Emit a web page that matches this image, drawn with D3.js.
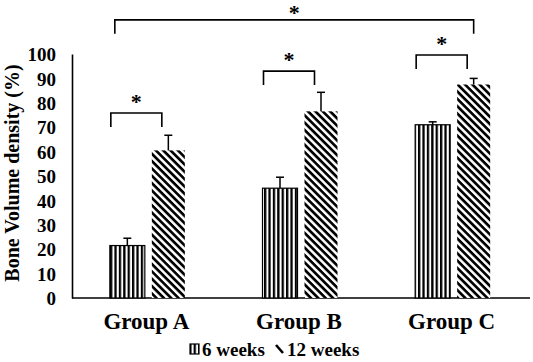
<!DOCTYPE html>
<html><head><meta charset="utf-8">
<script src="https://cdn.jsdelivr.net/npm/d3@7"></script>
<style>body{margin:0;background:#fff}svg{display:block}text{font-family:"Liberation Serif","Times New Roman",serif;font-weight:bold;fill:#000}</style>
</head><body>
<script>
const groups = ["Group A","Group B","Group C"];
const seriesNames = ["6 weeks","12 weeks"];
const values6 = [21.5, 45, 71];
const values12 = [60.5, 76.5, 87.5];
const err6 = [3, 4.5, 1.2];
const err12 = [6.2, 7.8, 2.5];
const yTicks = [0,10,20,30,40,50,60,70,80,90,100];
// significance brackets: [groupIndexLeft, groupIndexRight, y-level (data units)]
const brackets = [[0,0,75.8],[1,1,93],[2,2,99.6],[0,2,114]];

const W=533,H=362;
const svg=d3.select("body").append("svg").attr("width",W).attr("height",H);
const defs=svg.append("defs");
const pv=defs.append("pattern").attr("id","vert").attr("patternUnits","userSpaceOnUse").attr("width",4.4).attr("height",10);
pv.append("rect").attr("width",4.4).attr("height",10).attr("fill","#fff");
pv.append("rect").attr("width",2.3).attr("height",10).attr("fill","#000");
const pd=defs.append("pattern").attr("id","diag").attr("patternUnits","userSpaceOnUse").attr("width",10).attr("height",5.2).attr("patternTransform","rotate(45)");
pd.append("rect").attr("width",10).attr("height",5.2).attr("fill","#fff");
pd.append("rect").attr("width",10).attr("height",2.7).attr("fill","#000");

const x=d3.scaleBand().domain(groups).range([72,530]);
const y=d3.scaleLinear().domain([0,100]).range([298,54]);
const barW=35, gap=7;
const x6=g=>x(g)+x.bandwidth()/2-gap/2-barW;
const x12=g=>x(g)+x.bandwidth()/2+gap/2;

// axes
const yAxis=svg.append("g").attr("transform","translate(72,0)").call(d3.axisLeft(y).tickValues(yTicks).tickSize(0).tickPadding(16));
yAxis.select(".domain").attr("stroke","#000").attr("stroke-width",1.6);
yAxis.selectAll("text").style("font-size","19px").attr("dy","0.35em").style("font-family",'"Liberation Serif",serif').style("font-weight","bold");
svg.append("line").attr("x1",72).attr("x2",530).attr("y1",y(0)).attr("y2",y(0)).attr("stroke","#000").attr("stroke-width",1.6);

// bars
svg.selectAll(".b6").data(groups).join("rect").attr("x",d=>x6(d)).attr("width",barW)
 .attr("y",(d,i)=>y(values6[i])).attr("height",(d,i)=>y(0)-y(values6[i]))
 .attr("fill","url(#vert)").attr("stroke","#000").attr("stroke-width",1.2);
svg.selectAll(".b12").data(groups).join("rect").attr("x",d=>x12(d)).attr("width",barW-2)
 .attr("y",(d,i)=>y(values12[i])).attr("height",(d,i)=>y(0)-y(values12[i]))
 .attr("fill","url(#diag)");

// error bars
function errBar(cx,v,e){
  svg.append("line").attr("x1",cx).attr("x2",cx).attr("y1",y(v)).attr("y2",y(v+e)).attr("stroke","#000").attr("stroke-width",1.5);
  svg.append("line").attr("x1",cx-4).attr("x2",cx+4).attr("y1",y(v+e)).attr("y2",y(v+e)).attr("stroke","#000").attr("stroke-width",1.5);
}
groups.forEach((g,i)=>{errBar(x6(g)+barW/2,values6[i],err6[i]);errBar(x12(g)+barW/2-1,values12[i],err12[i]);});

// group labels
svg.selectAll(".gl").data(groups).join("text").attr("x",d=>x(d)+x.bandwidth()/2-2).attr("y",329)
 .attr("text-anchor","middle").style("font-size","23px").text(d=>d);

// y label
svg.append("text").attr("transform","translate(19,173) rotate(-90)").attr("text-anchor","middle").style("font-size","20px").text("Bone Volume density (%)");

// brackets
const legPx=14;
brackets.forEach(([a,b,lv])=>{
  const xl=x6(groups[a])+ (a===b?1:5);
  const xr=x12(groups[b])+ (a===b?10:(barW/2-1));
  const yy=y(lv);
  svg.append("path").attr("d",`M${xl},${yy+legPx}V${yy}H${xr}V${yy+legPx}`).attr("fill","none").attr("stroke","#000").attr("stroke-width",1.6);
  svg.append("text").attr("x",(xl+xr)/2).attr("y",Math.max(yy-4,20)).attr("text-anchor","middle").style("font-size","22px").text("*");
});

// legend
const lg=svg.append("g");
lg.append("rect").attr("x",190).attr("y",344).attr("width",9).attr("height",10).attr("fill","url(#vert)").attr("stroke","#000").attr("stroke-width",1.2);
lg.append("text").attr("x",202).attr("y",356).style("font-size","19px").text(seriesNames[0]);
lg.append("line").attr("x1",276).attr("y1",345).attr("x2",283).attr("y2",353).attr("stroke","#000").attr("stroke-width",2.6);
lg.append("text").attr("x",287).attr("y",356).style("font-size","19px").text(seriesNames[1]);
</script>
</body></html>
